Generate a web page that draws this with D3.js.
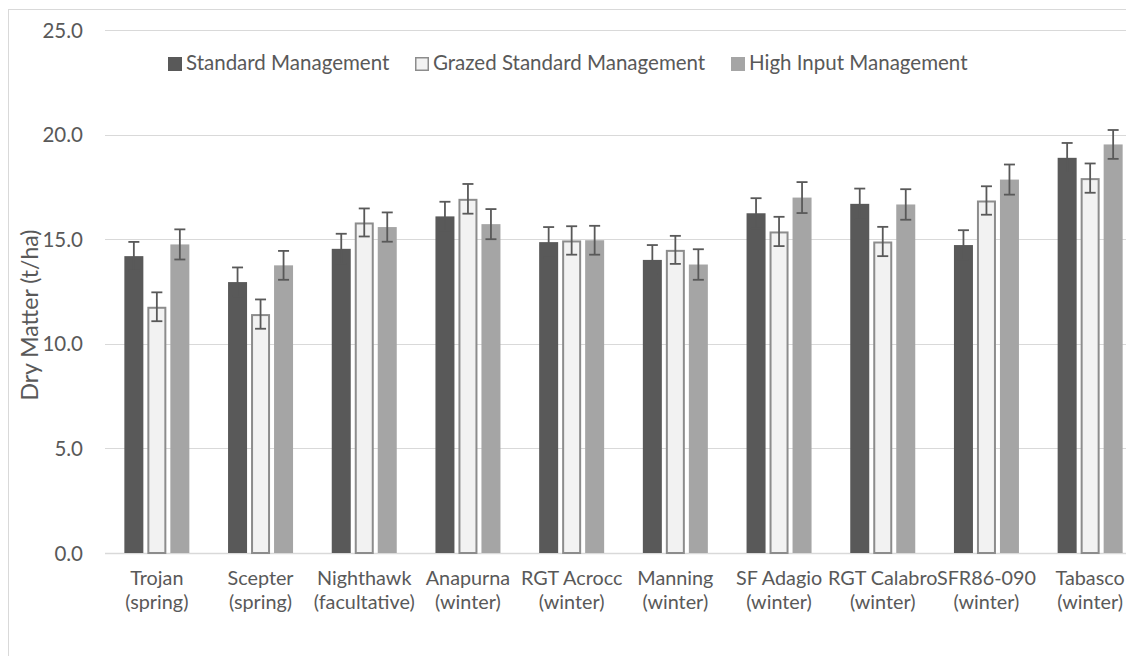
<!DOCTYPE html>
<html>
<head>
<meta charset="utf-8">
<script src="https://cdn.jsdelivr.net/npm/d3@7"></script>
<style>
  html, body { margin: 0; padding: 0; background: #fff; overflow: hidden; }
  svg { display: block; font-family: Lato, "Open Sans", sans-serif; }
</style>
</head>
<body>
<svg id="chart" width="1126" height="656"></svg>
<script>
// ---- data ----
const categories = [
  ["Trojan", "(spring)"],
  ["Scepter", "(spring)"],
  ["Nighthawk", "(facultative)"],
  ["Anapurna", "(winter)"],
  ["RGT Acrocc", "(winter)"],
  ["Manning", "(winter)"],
  ["SF Adagio", "(winter)"],
  ["RGT Calabro", "(winter)"],
  ["SFR86-090", "(winter)"],
  ["Tabasco", "(winter)"]
];
const seriesNames = ["Standard Management", "Grazed Standard Management", "High Input Management"];
const standard = [14.19, 12.95, 14.54, 16.09, 14.86, 14.01, 16.24, 16.69, 14.72, 18.89];
const grazed   = [11.77, 11.42, 15.80, 16.93, 14.94, 14.49, 15.37, 14.89, 16.85, 17.92];
const highInput= [14.75, 13.75, 15.58, 15.72, 14.95, 13.79, 16.99, 16.66, 17.85, 19.53];
const stdErr     = [0.68, 0.70, 0.72, 0.70, 0.72, 0.71, 0.72, 0.73, 0.71, 0.71];
const grazedErr  = [0.69, 0.70, 0.67, 0.71, 0.68, 0.67, 0.70, 0.70, 0.68, 0.70];
const highErr    = [0.72, 0.69, 0.70, 0.72, 0.69, 0.73, 0.74, 0.73, 0.72, 0.69];
const yTicks = [0, 5, 10, 15, 20, 25];
const yTitle = "Dry Matter (t/ha)";

const values = [standard, grazed, highInput];
const errors = [stdErr, grazedErr, highErr];
const fills = ["#595959", "#f2f2f2", "#a5a5a5"];
const strokes = [null, "#8c8c8c", null];
const textColor = "#595959";
const labelSize = "20.5px";
const catSize = "19.8px";

const svg = d3.select("#chart");

// outer chart border (chart is cropped on the right / bottom)
svg.append("rect")
  .attr("x", 8.5).attr("y", 9.5)
  .attr("width", 1200).attr("height", 700)
  .attr("fill", "none").attr("stroke", "#d9d9d9").attr("stroke-width", 1);

const catKeys = categories.map(c => c.join(" "));
const x = d3.scaleBand().domain(catKeys).range([105, 1142]).padding(0);
const groupW = 65;
const x1 = d3.scaleBand().domain(seriesNames).range([0, groupW]).paddingInner(4 / 23).paddingOuter(0);
const y = d3.scaleLinear().domain([0, 25]).range([553, 30]);

// gridlines
const grid = svg.append("g");
grid.selectAll("line").data(yTicks).join("line")
  .attr("x1", 105).attr("x2", 1142)
  .attr("y1", d => Math.round(y(d)) + 0.5).attr("y2", d => Math.round(y(d)) + 0.5)
  .attr("stroke", "#d9d9d9").attr("stroke-width", d => d === 0 ? 1.5 : 1.2);

// y axis labels
const yAxis = d3.axisLeft(y).tickValues(yTicks).tickFormat(d3.format(".1f")).tickSize(0).tickPadding(0);
const gy = svg.append("g").attr("transform", "translate(83,0)").call(yAxis);
gy.select(".domain").remove();
gy.selectAll("text").attr("fill", textColor).style("font-size", labelSize)
  .style("font-family", "Lato, sans-serif").attr("dy", "0.35em");

// y title
svg.append("text")
  .attr("transform", "translate(30,315) rotate(-90)")
  .attr("text-anchor", "middle").attr("dy", "0.35em")
  .attr("fill", textColor).style("font-size", "23px")
  .text(yTitle);

// bars
const groups = svg.append("g").selectAll("g").data(catKeys).join("g")
  .attr("transform", d => `translate(${x(d) + (x.bandwidth() - groupW) / 2},0)`);

seriesNames.forEach((s, si) => {
  groups.append("rect")
    .attr("x", (d, i) => x1(s) + (strokes[si] ? 1 : 0))
    .attr("y", (d, i) => y(values[si][i]) + (strokes[si] ? 1 : 0))
    .attr("width", x1.bandwidth() - (strokes[si] ? 2 : 0))
    .attr("height", (d, i) => y(0) - y(values[si][i]) - (strokes[si] ? 1 : 0))
    .attr("fill", fills[si])
    .attr("stroke", strokes[si] || "none")
    .attr("stroke-width", strokes[si] ? 2 : 0);
});

// error bars
seriesNames.forEach((s, si) => {
  const cx = x1(s) + x1.bandwidth() / 2;
  const eb = groups.append("g").attr("stroke", "#595959").attr("stroke-width", 1.8).attr("fill", "none");
  eb.append("line")
    .attr("x1", cx).attr("x2", cx)
    .attr("y1", (d, i) => y(values[si][i] - errors[si][i]))
    .attr("y2", (d, i) => y(values[si][i] + errors[si][i]));
  eb.append("line")
    .attr("x1", cx - 5.5).attr("x2", cx + 5.5)
    .attr("y1", (d, i) => y(values[si][i] + errors[si][i]))
    .attr("y2", (d, i) => y(values[si][i] + errors[si][i]));
  eb.append("line")
    .attr("x1", cx - 5.5).attr("x2", cx + 5.5)
    .attr("y1", (d, i) => y(values[si][i] - errors[si][i]))
    .attr("y2", (d, i) => y(values[si][i] - errors[si][i]));
});

// x labels
const xl = svg.append("g").selectAll("text").data(categories).join("text")
  .attr("text-anchor", "middle")
  .attr("fill", textColor).style("font-size", catSize)
  .attr("transform", (d, i) => `translate(${x(catKeys[i]) + x.bandwidth() / 2},0)`);
xl.append("tspan").attr("x", 0).attr("y", 578).attr("dy", "0.35em").text(d => d[0]);
xl.append("tspan").attr("x", 0).attr("y", 602).attr("dy", "0.35em").text(d => d[1]);

// legend
const legendX = [168, 415, 731];
const lg = svg.append("g").selectAll("g").data(seriesNames).join("g")
  .attr("transform", (d, i) => `translate(${legendX[i]},0)`);
lg.append("rect")
  .attr("x", (d, i) => strokes[i] ? 0.75 : 0).attr("y", (d, i) => strokes[i] ? 57.75 : 57)
  .attr("width", (d, i) => strokes[i] ? 12.5 : 14).attr("height", (d, i) => strokes[i] ? 12.5 : 14)
  .attr("fill", (d, i) => fills[i])
  .attr("stroke", (d, i) => strokes[i] || "none").attr("stroke-width", 1.5);
lg.append("text")
  .attr("x", 18).attr("y", 63).attr("dy", "0.35em")
  .attr("fill", textColor).style("font-size", labelSize)
  .text(d => d);
</script>
</body>
</html>
